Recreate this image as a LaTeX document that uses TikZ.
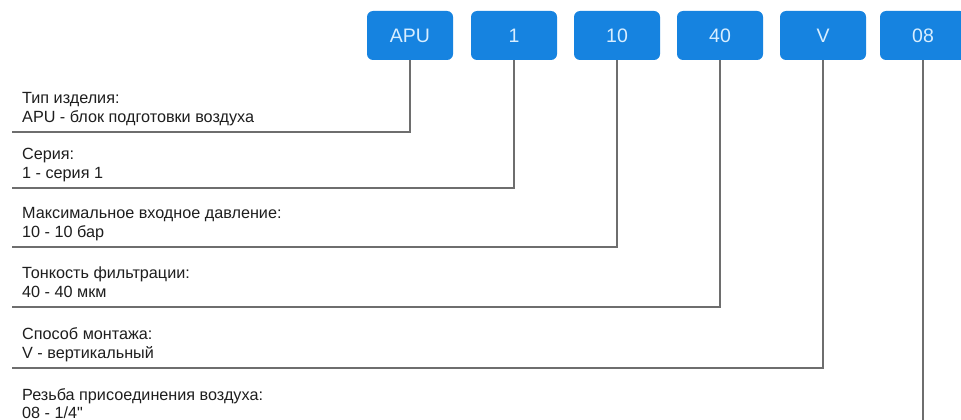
\documentclass[tikz,border=0pt]{standalone}
\usepackage{fontspec}
\setmainfont{Liberation Sans}[Ligatures=TeXOff]
\definecolor{boxblue}{HTML}{1683E0}
\definecolor{boxtext}{HTML}{D8EEFF}
\definecolor{linegray}{HTML}{6E6E6E}
\definecolor{txt}{HTML}{1E1E1E}
\begin{document}
\begin{tikzpicture}[x=1pt,y=-1pt,
  codebox/.style={draw=none,fill=boxblue,rounded corners=6pt,minimum width=86pt,minimum height=49pt,inner sep=0pt,text=boxtext,font=\fontsize{19.5}{21}\selectfont},
  lbl/.style={anchor=base west,inner sep=0pt,text=txt,font=\fontsize{16.2}{18}\selectfont},
  conn/.style={draw=linegray,line width=1.3pt}]
\useasboundingbox[fill=white] (0,0) rectangle (961,420);
\node[codebox] (b1) at (410,35.5) {APU};
\node[codebox] (b2) at (514,35.5) {1};
\node[codebox] (b3) at (617,35.5) {10};
\node[codebox] (b4) at (720,35.5) {40};
\node[codebox] (b5) at (823,35.5) {V};
\node[codebox] (b6) at (923,35.5) {08};
\coordinate (e1) at (12,132);
\coordinate (e2) at (12,188);
\coordinate (e3) at (12,247);
\coordinate (e4) at (12,307);
\coordinate (e5) at (12,368);
\coordinate (e6) at (923,420);
\draw[conn] (b1) |- (e1);
\draw[conn] (b2) |- (e2);
\draw[conn] (b3) |- (e3);
\draw[conn] (b4) |- (e4);
\draw[conn] (b5) |- (e5);
\draw[conn] (b6) -- (e6);
\node[lbl] (t1a) at (22,103) {Тип изделия:};
\node[lbl] (t1b) at (22,122) {APU - блок подготовки воздуха};
\node[lbl] (t2a) at (22,159) {Серия:};
\node[lbl] (t2b) at (22,178) {1 - серия 1};
\node[lbl] (t3a) at (22,218) {Максимальное входное давление:};
\node[lbl] (t3b) at (22,237) {10 - 10 бар};
\node[lbl] (t4a) at (22,278) {Тонкость фильтрации:};
\node[lbl] (t4b) at (22,297) {40 - 40 мкм};
\node[lbl] (t5a) at (22,339) {Способ монтажа:};
\node[lbl] (t5b) at (22,358) {V - вертикальный};
\node[lbl] (t6a) at (22,400) {Резьба присоединения воздуха:};
\node[lbl] (t6b) at (22,418) {08 - 1/4"};
\end{tikzpicture}
\end{document}
